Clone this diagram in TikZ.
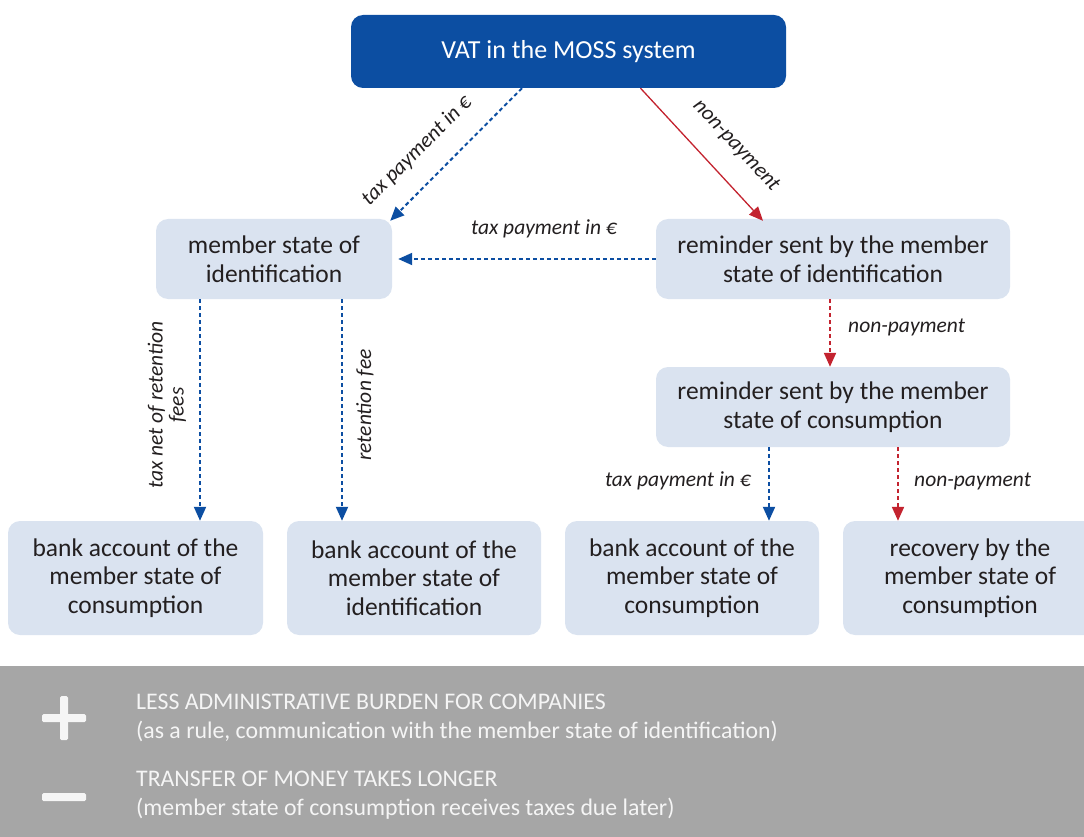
\documentclass[tikz,border=0pt]{standalone}
\usepackage{fontspec}
\setmainfont{Carlito}
\usetikzlibrary{arrows.meta,calc}
\definecolor{mossblue}{HTML}{0C4EA2}
\definecolor{boxfill}{HTML}{DAE3F0}
\definecolor{mossred}{HTML}{C3232F}
\definecolor{txt}{HTML}{231F20}
\definecolor{band}{HTML}{A6A6A6}
\tikzset{
  box/.style={draw=none, fill=boxfill, rounded corners=12pt, align=center, text=txt,
    font=\fontsize{25.5}{28.5}\selectfont, inner sep=0pt},
  topbox/.style={fill=mossblue, rounded corners=12pt, text=white, align=center,
    font=\fontsize{26}{28}\selectfont, inner sep=0pt},
  tip/.style={-{Triangle[length=14pt,width=12pt]}},
  bluedash/.style={tip, draw=mossblue, line width=2pt, dash pattern=on 4pt off 3pt, mossblue},
  reddash/.style={tip, draw=mossred, line width=2pt, dash pattern=on 4pt off 3pt, mossred},
  redsolid/.style={tip, draw=mossred, line width=1.3pt, mossred},
  lbl/.style={font=\fontsize{21.5}{21}\selectfont\itshape, text=txt, inner sep=0pt, align=center},
  bandtxt/.style={font=\fontsize{23.8}{29}\selectfont, text=white!96!black, anchor=west, align=left, inner sep=0pt},
}
\begin{document}
\begin{tikzpicture}[x=1pt,y=-1pt]
\useasboundingbox (0,0) rectangle (1084,837);
% nodes
\node[topbox, minimum width=435pt, minimum height=73pt] (top) at (568.5,51.5) {VAT in the MOSS system};
\node[box, minimum width=236pt, minimum height=80pt] (msi) at (274,259) {member state of\\identification};
\node[box, minimum width=354pt, minimum height=80pt] (rem1) at (833,259) {reminder sent by the member\\state of identification};
\node[box, minimum width=354pt, minimum height=80pt] (rem2) at (833,407) {reminder sent by the member\\state of consumption};
\node[box, minimum width=255pt, minimum height=114pt] (b1) at (135.5,578) {bank account of the\\member state of\\consumption};
\node[box, minimum width=254pt, minimum height=114pt] (b2) at (414,578) {bank account of the\\member state of\\identification};
\node[box, minimum width=254pt, minimum height=114pt] (b3) at (692,578) {bank account of the\\member state of\\consumption};
\node[box, minimum width=254pt, minimum height=114pt] (b4) at (970,578) {recovery by the\\member state of\\consumption};
% connectors
\draw[bluedash] ([xshift=-46.5pt]top.south) -- ([shift={(-2pt,-2pt)}]msi.north east);
\node[lbl, rotate=45] (l1) at (417,151) {tax payment in €};
\draw[redsolid] ([xshift=72pt]top.south) -- ([shift={(-70pt,-2pt)}]rem1.north);
\node[lbl, rotate=-47] (l2) at (736,146) {non-payment};
\draw[bluedash] (rem1.west) -- ([xshift=6pt]msi.east);
\node[lbl] (l3) at (544,229) {tax payment in €};
\draw[bluedash] ([xshift=-74pt]msi.south) -- ([xshift=-74pt]msi.south |- b1.north);
\node[lbl, rotate=90] (l4) at (167,405) {tax net of retention\\fees};
\draw[bluedash] ([xshift=68pt]msi.south) -- ([xshift=68pt]msi.south |- b2.north);
\node[lbl, rotate=90] (l5) at (365,405) {retention fee};
\draw[reddash] ([xshift=-3pt]rem1.south) -- ([xshift=-3pt]rem2.north);
\node[lbl, anchor=west] (l6) at (848,327) {non-payment};
\draw[bluedash] ([xshift=-64pt]rem2.south) -- ([xshift=-64pt]rem2.south |- b3.north);
\node[lbl, anchor=east] (l7) at (751,481) {tax payment in €};
\draw[reddash] ([xshift=65pt]rem2.south) -- ([xshift=65pt]rem2.south |- b4.north);
\node[lbl, anchor=west] (l8) at (914,481) {non-payment};
% bottom band
\fill[band] (0,666) rectangle (1084,837);
\fill[white!96!black, rounded corners=1.5pt] (60,696) rectangle (68,740);
\fill[white!96!black, rounded corners=1.5pt] (42,714) rectangle (86,722);
\fill[white!96!black, rounded corners=1.5pt] (42,793) rectangle (86,801);
\node[bandtxt] (p1) at (136,718) {LESS ADMINISTRATIVE BURDEN FOR COMPANIES\\(as a rule, communication with the member state of identification)};
\node[bandtxt] (p2) at (136,795) {TRANSFER OF MONEY TAKES LONGER\\(member state of consumption receives taxes due later)};
\end{tikzpicture}
\end{document}
